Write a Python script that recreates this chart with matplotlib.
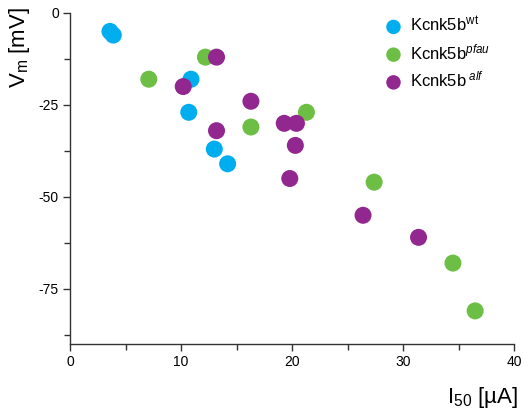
import numpy as np
import matplotlib
matplotlib.use("Agg")
import matplotlib.pyplot as plt
from matplotlib.ticker import MultipleLocator

plt.rcParams['font.family'] = ['Liberation Sans', 'DejaVu Sans']
plt.rcParams['mathtext.fontset'] = 'custom'
plt.rcParams['mathtext.rm'] = 'Liberation Sans'
plt.rcParams['mathtext.it'] = 'Liberation Sans:italic'
plt.rcParams['axes.unicode_minus'] = False

# Data (I50 in uA, Vm in mV)
wt_x = [3.6, 3.9, 10.9, 10.7, 13.0, 14.2]
wt_y = [-5, -6, -18, -27, -37, -41]

pfau_x = [7.1, 12.2, 16.3, 21.3, 27.4, 34.5, 36.5]
pfau_y = [-18, -12, -31, -27, -46, -68, -81]

alf_x = [13.2, 10.2, 16.3, 13.2, 19.3, 20.4, 20.3, 19.8, 26.4, 31.4]
alf_y = [-12, -20, -24, -32, -30, -30, -36, -45, -55, -61]

c_wt = '#00AEEF'
c_pfau = '#6CBE45'
c_alf = '#92278F'

fig = plt.figure(figsize=(5.29, 4.13), dpi=100)
ax = fig.add_axes([70/529, 1-344/413, 444/529, 331/413])

ms = 150
ax.scatter(wt_x, wt_y, s=ms, color=c_wt, edgecolors='none', label=r'Kcnk5b$^{\mathrm{wt}}$', zorder=3)
ax.scatter(pfau_x, pfau_y, s=ms, color=c_pfau, edgecolors='none', label=r'Kcnk5b$^{\mathit{pfau}}$', zorder=3)
ax.scatter(alf_x, alf_y, s=ms, color=c_alf, edgecolors='none', label=r'Kcnk5b$^{\ \mathit{alf}}$', zorder=3)

ax.set_xlim(0, 40)
ax.set_ylim(-90, 0)
ax.xaxis.set_major_locator(MultipleLocator(10))
ax.xaxis.set_minor_locator(MultipleLocator(5))
ax.set_yticks([0, -25, -50, -75])
ax.yaxis.set_minor_locator(MultipleLocator(12.5))

for s in ['top', 'right']:
    ax.spines[s].set_visible(False)
for s in ['left', 'bottom']:
    ax.spines[s].set_color('#333333')
    ax.spines[s].set_linewidth(1.0)

ax.tick_params(which='major', length=5, width=1, color='#333333', labelsize=10, pad=3)
ax.tick_params(which='minor', length=4, width=1, color='#333333')

ax.set_ylabel(r'V$_\mathrm{m}$ [mV]', fontsize=16, loc='top')
ax.yaxis.set_label_coords(-0.086, 1.018)
ax.set_xlabel(r'I$_{50}$ [µA]', fontsize=16, loc='right')
ax.xaxis.set_label_coords(1.009, -0.125)

ax.legend(loc='upper left', bbox_to_anchor=(0.676, 1.015), frameon=False,
          fontsize=12, handletextpad=0.0, labelspacing=0.47, borderaxespad=0,
          scatterpoints=1, markerscale=0.85)

fig.savefig('out.png', dpi=100)
